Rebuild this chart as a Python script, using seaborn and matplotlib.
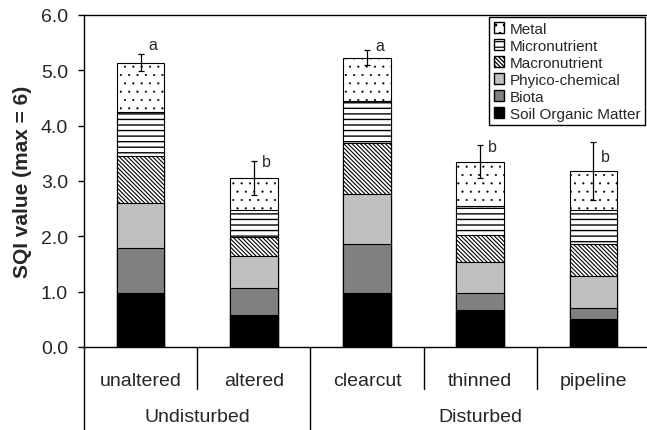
import numpy as np
import pandas as pd
import matplotlib
matplotlib.use('Agg')
import matplotlib.pyplot as plt
from matplotlib.patches import Patch
import seaborn as sns

# sites along the x axis and the two groups below them
sites = ['unaltered', 'altered', 'clearcut', 'thinned', 'pipeline']
groups = ['Undisturbed', 'Disturbed']
group_sizes = [2, 3]

# stacked SQI components, bottom to top
components = ['Soil Organic Matter', 'Biota', 'Phyico-chemical',
              'Macronutrient', 'Micronutrient', 'Metal']
som = [0.98, 0.57, 0.98, 0.66, 0.50]
biota = [0.81, 0.49, 0.88, 0.32, 0.21]
phys = [0.81, 0.59, 0.91, 0.55, 0.58]
macro = [0.85, 0.34, 0.92, 0.50, 0.57]
micro = [0.79, 0.48, 0.75, 0.51, 0.62]
metal = [0.90, 0.58, 0.79, 0.81, 0.70]

# error on the total and significance letters
err = [0.15, 0.31, 0.13, 0.30, 0.52]
letters = ['a', 'b', 'a', 'b', 'b']
letter_y = [5.38, 3.28, 5.37, 3.55, 3.37]

df = pd.DataFrame({'site': sites,
                   'Soil Organic Matter': som, 'Biota': biota,
                   'Phyico-chemical': phys, 'Macronutrient': macro,
                   'Micronutrient': micro, 'Metal': metal})
cum = df[components].cumsum(axis=1)
cum['site'] = df['site']
totals = cum['Metal'].values

# facecolor, hatch, hatch line width
styles = {
    'Soil Organic Matter': ('black', None, 0.9),
    'Biota': ('#808080', None, 0.9),
    'Phyico-chemical': ('#c0c0c0', None, 0.9),
    'Macronutrient': ('white', '\\' * 8, 0.8),
    'Micronutrient': ('white', '---', 1.0),
    'Metal': ('white', '..', 0.3),
}

sns.set_style('white')
plt.rcParams['font.family'] = ['Liberation Sans', 'DejaVu Sans']
plt.rcParams['hatch.linewidth'] = 0.9

fig = plt.figure(figsize=(6.47, 4.31), dpi=100)
ax = fig.add_axes([84 / 647, 83 / 431, 566 / 647, 332 / 431])

# draw cumulative bars from the top component down so each covers the one above
for comp in reversed(components):
    fc, h, hlw = styles[comp]
    n0 = len(ax.patches)
    sns.barplot(data=cum, x='site', y=comp, order=sites, color=fc, saturation=1,
                hatch=h, edgecolor='black', linewidth=0.8, width=0.42,
                errorbar=None, ax=ax)
    for p in ax.patches[n0:]:
        if hasattr(p, 'set_hatch_linewidth'):
            p.set_hatch_linewidth(hlw)

xpos = np.arange(len(sites))
ax.errorbar(xpos, totals, yerr=err, fmt='none', ecolor='black',
            elinewidth=0.9, capsize=2.5, capthick=0.9, zorder=5)
for i, (lab, ly) in enumerate(zip(letters, letter_y)):
    ax.text(i + 0.07, ly, lab, ha='left', va='baseline', fontsize=11.5)

ax.set_ylim(0, 6)
ax.set_xlim(-0.5, len(sites) - 0.5)
ax.set_yticks(np.arange(0, 7, 1))
ax.set_yticklabels([f'{v:.1f}' for v in np.arange(0, 7, 1)])
ax.set_xticks([])
ax.set_xlabel('')
ax.set_ylabel('SQI value (max = 6)', fontsize=15, fontweight='bold', labelpad=6)
ax.tick_params(axis='y', left=True, length=4.5, width=1, pad=7,
               labelsize=14, color='black')
for side in ['left', 'bottom', 'top']:
    ax.spines[side].set_color('black')
    ax.spines[side].set_linewidth(1)
ax.spines['right'].set_visible(False)

# category separators and labels below the axis
trans = ax.get_xaxis_transform()
edges = [-0.5]
for n in group_sizes:
    edges.append(edges[-1] + n)
for b in np.arange(-0.5, len(sites), 1):
    low = -0.25 if b in edges else -0.127
    ax.plot([b, b], [0, low], transform=trans, clip_on=False,
            color='black', lw=1)
for i, s in enumerate(sites):
    ax.text(i, -0.1, s, transform=trans, ha='center', va='center', fontsize=14)
for g, a, b in zip(groups, edges[:-1], edges[1:]):
    ax.text((a + b) / 2, -0.21, g, transform=trans, ha='center', va='center',
            fontsize=14)

handles = [Patch(facecolor=styles[c][0], edgecolor='black', hatch=styles[c][1],
                 label=c) for c in reversed(components)]
leg = ax.legend(handles=handles, loc='upper right',
                bbox_to_anchor=(645 / 647, 1 - 18 / 431),
                bbox_transform=fig.transFigure, fontsize=11, frameon=True,
                fancybox=False, framealpha=1, edgecolor='black', borderpad=0.3,
                labelspacing=0.2, handlelength=0.7, handleheight=0.7,
                handletextpad=0.35, borderaxespad=0)
leg.get_frame().set_linewidth(1)

fig.savefig('out.png', dpi=100)
